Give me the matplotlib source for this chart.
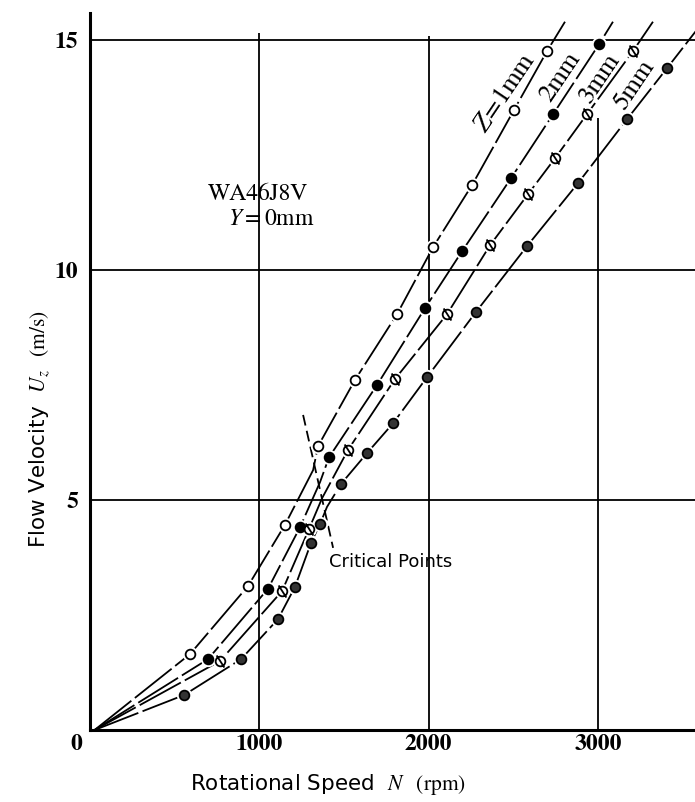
import numpy as np
import matplotlib
matplotlib.use("Agg")
import matplotlib.pyplot as plt
from matplotlib.path import Path

plt.rcParams["mathtext.fontset"] = "stix"

# Measured points, Z = 1, 2, 3, 5 mm (rpm, m/s)
rpm_z1 = [593, 935, 1153, 1348, 1566, 1814, 2027, 2257, 2504, 2699]
u_z1 = [1.65, 3.13, 4.46, 6.17, 7.61, 9.04, 10.50, 11.85, 13.48, 14.76]
rpm_z2 = [699, 1053, 1242, 1413, 1696, 1979, 2198, 2487, 2735, 3006]
u_z2 = [1.54, 3.07, 4.41, 5.93, 7.50, 9.17, 10.41, 12.00, 13.39, 14.91]
rpm_z3 = [770, 1136, 1295, 1525, 1802, 2109, 2363, 2587, 2746, 2935, 3206]
u_z3 = [1.50, 3.02, 4.37, 6.09, 7.63, 9.04, 10.54, 11.65, 12.43, 13.39, 14.76]
rpm_z5 = [558, 894, 1112, 1212, 1307, 1360, 1484, 1637, 1791, 1991, 2280,
          2581, 2882, 3171, 3407]
u_z5 = [0.76, 1.54, 2.41, 3.11, 4.07, 4.48, 5.35, 6.02, 6.67, 7.67, 9.09,
        10.52, 11.89, 13.28, 14.39]

# critical points (kinks) and the ends of the drawn curves
crit_rpm = [1319, 1360, 1372, 1401]
crit_u = [5.65, 5.39, 5.04, 4.85]
start_rpm = 30
end_rpm = [2805, 3088, 3324, 3620]
end_u = [15.40, 15.40, 15.40, 15.40]
crit_line_rpm = [1260, 1437]
crit_line_u = [6.85, 3.96]

labels = [r"$Z\!=\!$1mm", "2mm", "3mm", "5mm"]
label_rpm = [2455, 2778, 3012, 3212]
label_u = [13.85, 14.2, 14.18, 14.02]

# slashed circle marker for Z=3
phi = Path.make_compound_path(
    Path.unit_circle(),
    Path([[-0.8, 1.25], [0.8, -1.25]], [Path.MOVETO, Path.LINETO]),
)

series = [
    (rpm_z1, u_z1, dict(marker="o", ms=7, mfc="white")),
    (rpm_z2, u_z2, dict(marker="o", ms=7, mfc="black")),
    (rpm_z3, u_z3, dict(marker=phi, ms=8.7, mfc="white")),
    (rpm_z5, u_z5, dict(marker="o", ms=7, mfc="0.2")),
]

fig = plt.figure(figsize=(6.95, 8.02), dpi=100)
ax = fig.add_axes([0.1288, 0.0898, 0.8712, 0.894])

for i, (n, u, mk) in enumerate(series):
    xs = np.concatenate([[start_rpm], n, [crit_rpm[i]], [end_rpm[i]]])
    ys = np.concatenate([[0], u, [crit_u[i]], [end_u[i]]])
    order = np.argsort(xs)
    ax.plot(xs[order], ys[order], color="black", lw=1.3,
            dashes=(26, 2.5), zorder=2)
    ax.plot(n, u, ls="none", marker="o", ms=11, mfc="white",
            mec="none", zorder=3)
    ax.plot(n, u, ls="none", mec="black", mew=1.3, zorder=4, **mk)
    ax.text(label_rpm[i], label_u[i], labels[i], rotation=56,
            ha="center", va="center", fontsize=19, family="STIXGeneral",
            zorder=5)

ax.plot(crit_line_rpm, crit_line_u, color="black", lw=1.3,
        dashes=(6, 3), zorder=2)
ax.text(1410, 3.65, "Critical Points", fontsize=13, ha="left",
        va="center")

# grid as drawn in the original
for y in [5, 10]:
    ax.axhline(y, color="black", lw=1.3, zorder=1)
ax.hlines(15, 0, 3600, color="black", lw=1.3, zorder=1)
ax.vlines(1000, 0, 15.15, color="black", lw=1.3, zorder=1)
ax.vlines(2000, 0, 15.1, color="black", lw=1.3, zorder=1)
ax.vlines(3000, 0, 13.3, color="black", lw=1.3, zorder=1)

ax.text(699, 11.52, "WA46J8V", fontsize=17, family="STIXGeneral",
        va="baseline")
ax.text(817, 10.98, r"$Y=$0mm", fontsize=17, family="STIXGeneral",
        va="baseline")

ax.set_xlim(0, 3572)
ax.set_ylim(0, 15.59)
ax.set_xticks([1000, 2000, 3000])
ax.set_yticks([5, 10, 15])
ax.tick_params(length=0, labelsize=17, pad=3)
ax.tick_params(axis="y", pad=8)
for t in ax.get_xticklabels() + ax.get_yticklabels():
    t.set_family("STIXGeneral")
    t.set_weight("bold")
ax.annotate("0", (0, 0), xytext=(-5, -3), textcoords="offset points",
            ha="right", va="top", fontsize=17, family="STIXGeneral",
            weight="bold")

for s in ["top", "right"]:
    ax.spines[s].set_visible(False)
for s in ["left", "bottom"]:
    ax.spines[s].set_linewidth(2.2)

ax.set_xlabel(r"Rotational Speed  $N$  $\mathrm{(rpm)}$", fontsize=15.5)
ax.xaxis.set_label_coords(0.394, -0.058)
ax.set_ylabel(r"Flow Velocity  $U_z$  $\mathrm{(m/s)}$", fontsize=15.5)
ax.yaxis.set_label_coords(-0.062, 0.42)

plt.savefig("out.png", dpi=100)
